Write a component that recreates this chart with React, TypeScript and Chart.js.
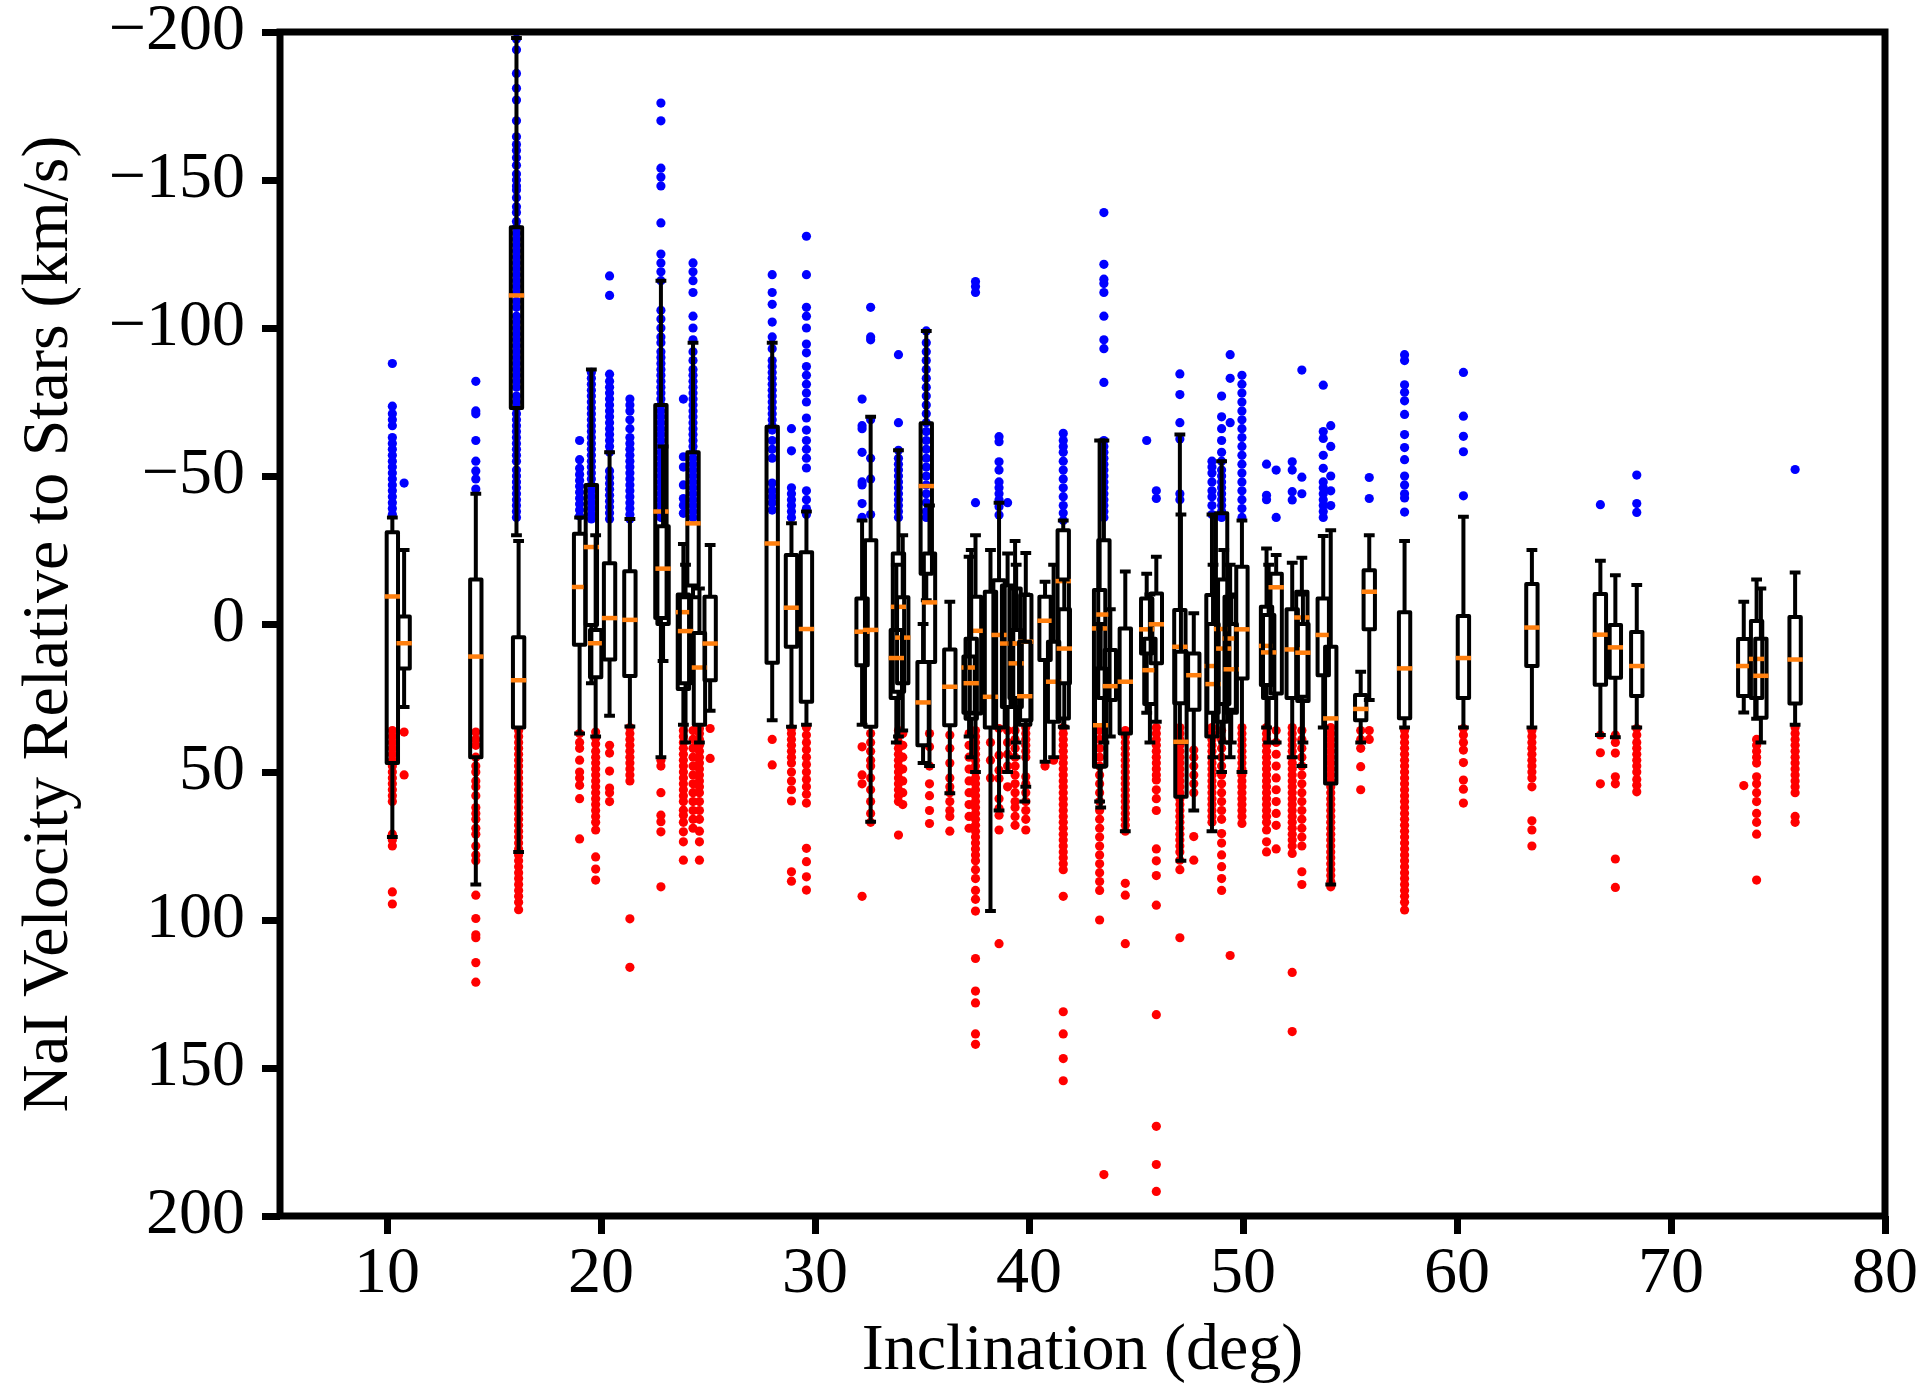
import React, { useEffect, useRef } from "react";
import { Chart, registerables } from "chart.js";

Chart.register(...registerables);

// ---- Data ----
const xTicks = [10, 20, 30, 40, 50, 60, 70, 80];
const yTicks = [-200, -150, -100, -50, 0, 50, 100, 150, 200];

const boxX = [10.25, 10.8, 14.15, 16.05, 16.15, 19.0, 19.55, 19.75, 20.4, 21.35, 22.8, 22.9, 23.85, 23.95, 24.3, 24.6, 25.1, 28.0, 28.9, 29.6, 32.2, 32.6, 33.9, 34.1, 33.8, 35.2, 35.35, 35.05, 36.3, 37.5, 37.2, 37.3, 38.2, 38.6, 39.0, 39.35, 39.4, 39.85, 39.8, 40.75, 41.15, 41.6, 41.65, 43.3, 43.35, 43.5, 43.8, 44.5, 45.5, 45.65, 45.95, 47.05, 47.1, 47.7, 48.55, 48.6, 49.0, 49.1, 49.4, 49.45, 49.95, 51.1, 51.2, 51.55, 52.3, 52.75, 52.8, 53.75, 54.1, 55.5, 55.9, 57.55, 60.3, 63.5, 66.7, 67.4, 68.4, 73.4, 74.0, 74.2, 75.8];

const whiskerLow = [-36, -25, -44, -198, -28, -36, -86, -30, -58, -35.5, -116, -60, -27, -20, -95, -12, -26.7, -95, -34, -38, -35, -70, -58.7, -30, -20, -99, -40, 0, -7.5, -30, -22.7, -25, -25, -41, -23.8, -28, -20, -24, -10, -14.3, -20, -35, -15, -62, 0, -62, -5, -17.7, -17, -10, -22.7, -64, -37, -3.6, -37, -20, -55, -25, -20, -10, -35, -25.5, -20, -23.3, -20.7, -22.4, -10, -29.7, -31.7, 16.1, -30, -28, -36.2, -25, -21.4, -16.5, -13.2, -7.5, -15, -12, -17.4];

const q1 = [-31, -2.5, -15, -134, 4.5, -30.5, -47, 2, -20.5, -17.8, -74, -33, -10, -9, -58, 3, -9.2, -66.6, -23.3, -24.2, -8.6, -28.3, -23.8, -9, 2, -67.8, -23.8, 12.8, 8.6, -9.2, 11, 5, -10.9, -14.8, -13, -12, 2, -9.8, 6, -9.2, 6, -31.7, -5, -11.5, 15, -28.3, 8.8, 1.5, -8.6, 5, -10.3, -4.7, 9.4, 10, -9.8, 0, -37.4, -15, -9.2, 0, -19.3, -5.8, -3, -17, -5, -10.9, 0, -8.6, 7.7, 24, -18.2, -4, -2.7, -13.5, -10.1, 0.3, 2.7, 5.1, -1, 5, -2.4];

const median = [-9.3, 6.5, 11, -111, 19, -12.5, -26, 6.5, -2, -1.4, -38, -18.7, -4, 2.4, -34, 14.7, 6.6, -27.2, -5.5, 1.7, 2.6, 2, -5.8, 4.6, 11.5, -46.6, -7.3, 26.5, 21.2, 2.3, 14.7, 20, 24.6, 3.7, 6.6, 6.6, 13.3, 6, 24.4, -1.1, 19.5, -14.5, 8.3, 1.5, 34.2, -3.2, 21, 19.5, 1.8, 15.6, 0.1, 7.7, 39.8, 17.3, 14.2, 20.3, 1.7, 8.3, 4.9, 15.3, 1.8, 7.4, 9.6, -12.4, 8.6, -2.2, 9.7, 3.7, 31.9, 28.7, -10.9, 15, 11.5, 1.2, 3.6, 7.9, 14.2, 14.2, 11.8, 17.5, 12];

const q3 = [47, 15, 45, -73, 35, 7, 0.3, 18, 12, 17.6, -2, 0, 22, 20, -13, 34, 19, 13.1, 7.7, 26.3, 13.9, 34.7, 22.9, 20, 25, -17, 12.8, 41, 34.2, 30.2, 30, 32, 35, 35, 28, 25, 28, 32.5, 34, 12.2, 33, 31.9, 20, 48.2, 48, 25, 25.7, 37, 10, 27, 13.3, 26.8, 58.4, 29, 38, 30, 33, 27, 29, 30, 18.4, 20.6, 25, 23.5, 25, 24.6, 26, 17.3, 53.9, 32.5, 1.8, 31.8, 25, 14.2, 20.5, 18.2, 24.3, 24.3, 25, 31.7, 26.9];

const whiskerHigh = [72, 28, 88, -30, 77, 37, 20, 38, 31, 34.6, 45, 12.5, 34, 40, -9, 40, 29.3, 32.5, 34.7, 34, 34, 66.8, 38, 36, 40, -8, 48, 47, 57.2, 50, 38, 45, 97, 63, 50, 45, 40, 55, 60, 46.5, 45, 34.7, 35, 60, 62, 40, 38, 70, 30, 40, 33, 40, 80, 63, 70, 45, 50, 40, 45, 40, 50, 35, 40, 40, 45, 48, 40, 35, 88, 40, 25.7, 35, 35, 35, 37.5, 38.3, 35, 29.9, 32, 40, 34];

// individual velocity points per box (negative = blue, positive = red)
const points = [
  [-88, -73.6, -71, -69, -67, -63, -61, -59, -57, -55, -53, -51, -49, -47, -45, -43, -41, -39, -37, 36, 38, 40, 42, 44, 46, 48, 50, 52, 54, 56, 58, 60, 71, 73, 75, 90.5, 94.6],
  [-47.6, 36.5, 51],
  [-82, -72, -71, -62, -55, -51.7, -49, -45.6, 36.5, 39, 41, 45, 48, 50, 53, 55, 58, 62, 64, 66, 69, 71, 75, 78, 80, 91.6, 99.5, 105, 106, 114.4, 121],
  [-197.6, -194, -186, -181, -177, -170, -164.6, -162, -160, -157.5, -155, -152, -150, -148, -146.6, -144, -141, -139, -136, -134, -132, -130, -128, -126, -124, -122, -120, -118, -116, -114, -112, -109, -107, -104, -102, -100, -98, -96, -94, -92, -90, -88, -86, -84, -82, -80, -77, -75, -73, -71, -69, -67, -65, -63, -61, -59, -57, -55, -52, -50, -48, -46, -44, -42, -40, -38, -36],
  [36, 38, 40, 42, 44, 46, 48, 50, 52, 54, 56, 58, 60, 62, 64, 66, 68, 70, 72, 74, 76, 78, 80, 82, 84, 86, 88, 90, 92, 94, 96.5],
  [-62, -55.5, -52.6, -50.5, -48.5, -46.5, -44.5, -42.5, -40.5, -38.5, -36.5, 37, 40, 42, 46, 50, 52, 54.5, 59, 72.6],
  [-85, -83, -81, -79, -77, -75, -73, -71, -69, -67, -65, -63, -61, -59, -57, -55, -53, -51, -49, -47, -45, -43, -41, -39, -37, -35.5],
  [36.5, 38.5, 40.5, 43, 45, 47, 49, 51, 53, 55, 57, 59, 61, 63, 65, 67, 69.6, 78.7, 82.8, 86.5],
  [-117.6, -111, -84.4, -82, -80, -78, -76, -74, -72, -70, -68, -66, -64, -62, -60, -58, -51.7, -49.5, -47.5, -45.5, -43.5, -41.5, -39.5, -37.5, -35.5, 41, 43.6, 49.7, 55.4, 57, 60],
  [-76, -74, -72, -69, -66, -63, -61, -59, -57, -55, -53, -51, -49, -47, -45, -43, -41, -39, -37, -35.5, 35, 37, 39, 41, 43, 45, 47, 49, 51, 53, 99.6, 116],
  [-176, -170, -154, -151, -148, -135.5, -125, -122, -119, -116, -106, -103, -100, -97, -95, -92, -90, -88, -86, -84, -82, -80, -78, -76, -74, -72, -70, -68, -66, -64, -62, -60, -58, -56, -54, -52, -50, -48, -46, -44, -42, -40, -38, -36, 46, 48, 57, 64.6, 66.8, 70.2, 88.8],
  [],
  [-76, -56.5, -53, -47, -42.4, -40, -37.4, 36, 38, 40, 42, 44, 46, 48, 50, 52, 54, 56, 58, 60, 62.9, 64.6, 67, 70.2, 73.6, 79.8],
  [],
  [-122, -119, -116, -112, -104, -100, -96, -92, -89, -86, -84, -82, -80, -78, -76, -74, -72, -70, -68, -66, -64, -62, -60, -58, -56, -54, -52, -50, -48, -46, -44, -42, -40, -38, -36, 36, 39, 42, 45, 48, 51, 54, 57, 60, 63, 66, 69],
  [35.3, 37, 39, 41, 43, 45, 47, 49, 51, 53, 55, 57, 60, 63, 66, 70, 73.6, 79.8],
  [35.3, 45.4],
  [-118, -112, -108, -102, -97, -93, -89, -87, -85, -83, -81, -79, -77, -75, -73, -71, -69, -67, -65.5, -62, -59, -56, -47.6, -45, -43, -41, -38.5, 39, 47.6],
  [-66, -58.5, -46, -44, -42, -40, -38, -36, 35.3, 37, 39, 41, 43, 45, 47, 50, 53, 56, 59.8, 83.7, 86.9],
  [-131, -118, -107, -104, -100, -94.6, -91.6, -87, -84, -81, -78, -75, -69.6, -65.5, -62, -59, -56, -52.7, -45, -42, -39, -37, 35, 37.5, 40, 42.5, 45, 47.5, 50, 52.5, 55, 57.5, 60.5, 75.8, 80.3, 85.4, 89.9],
  [-76, -67, -66, -58, -48, -47, -40.7, -36, 41.5, 51, 54, 92],
  [-107, -97, -96, -69, -56, -49, -37, 37, 40, 43, 46, 48, 52, 56, 60, 64, 67],
  [-91, -68, -58.7, -56, -54, -52, -50, -48, -46, -44, -42, -40, -38, -36, 36, 38, 40, 42, 44, 46, 48, 50, 52, 54, 56, 58, 60, 71.3],
  [37, 41, 45, 49, 53, 57, 61],
  [],
  [-99, -95, -92, -89, -86, -83, -80, -77, -74, -71, -68, -65, -62, -59, -56, -53, -50, -47, -44, -41, -38, -36],
  [37, 41.5, 48, 54, 58, 63, 67.4],
  [],
  [37.5, 42, 47, 52, 55, 57, 60, 63, 65, 70],
  [-115.7, -114, -112, -41, 36, 38, 40, 42, 44, 46, 48, 50, 52, 54, 56, 58, 60, 62, 64, 66, 68, 70, 72, 74, 76, 78, 80, 83, 86, 90, 93, 97, 113, 124, 128, 138.5, 142],
  [37, 41, 45, 49, 53, 57, 61, 65, 69],
  [],
  [40, 46, 52],
  [-63.3, -61.6, -54.8, -52, -48, -46, -44, -42, -39.6, -36.8, 35.3, 44.3, 49.4, 52.2, 59, 62.3, 64.6, 69.6, 108],
  [-41, 36, 40, 44, 48, 55],
  [36, 39, 42, 45, 48, 51, 54, 57, 60, 62, 65, 68],
  [],
  [35, 37, 39, 41, 43, 45, 51.6, 54, 57, 60, 63, 66, 69.6],
  [],
  [48],
  [46],
  [-64.4, -62, -60, -58, -55, -52, -49, -46, -43, -40, -37.5, -35, 35, 37, 39, 41, 43, 45, 47, 49, 51, 53, 55, 57, 59, 61, 63, 65, 67, 69, 71, 73, 75, 77, 79, 81, 83, 92, 131, 138.5, 146.8, 154.3],
  [],
  [36, 39, 42, 45, 48, 51, 54, 57, 60, 63, 66, 69, 72, 75, 78, 81, 84, 87, 90, 100],
  [],
  [-139, -121.5, -116.5, -115, -112, -104, -96, -93, -81.6, -62, -60, -58, -56, -54, -52, -50, -48, -46, -44, -42, -40, -38, -36, 186],
  [],
  [36, 38, 40, 42, 44, 46, 48, 50, 52, 54, 56, 58, 60, 62, 64, 66, 68, 70, 87.6, 91.6, 108],
  [-62],
  [],
  [-45, -42.4, 35, 37, 39, 41, 43, 45, 47, 49, 51, 52.7, 56, 59, 63, 76, 80, 85, 95, 132, 169.7, 182.6, 191.7],
  [-84.5, -77.5, -68, -62.5, -44, -42, 35, 37, 39, 41, 43, 45, 47, 49, 51, 53, 55, 57, 59, 61, 63, 65, 67, 69, 71, 73, 75, 77, 79.8, 83, 106],
  [],
  [42.6, 45, 48, 51, 54, 57, 71.8, 79.8],
  [-55, -53, -51, -48, -45, -43, -40, -37, 35, 37, 39, 41, 43, 45, 47, 49, 51, 53, 55, 57, 59, 61, 63, 65, 67],
  [],
  [-77, -70, -66, -62, -58, -55, -52, -50, -48, -46, -44, -42, -40, -38, -36, 36, 39, 42, 45, 48, 51, 54, 57, 60, 63, 66, 70.8, 74, 78, 82, 86, 90],
  [],
  [-91, -83, -68, 112],
  [],
  [-84, -81, -78, -75, -72, -69, -66, -63, -60, -57, -54, -51, -48, -45, -42, -39, -36, 35, 37, 39, 41, 43, 45, 47, 49, 51, 53, 55, 57, 59, 61, 63, 65, 67.4],
  [-54, -43.5, -42, 35, 37, 39, 41, 43, 45, 47, 49, 51, 53, 55, 57, 59, 61, 63, 65, 67, 69.6, 73.6, 77],
  [],
  [-52, -36, 36, 40, 44, 48, 52, 56, 60, 64, 68, 76],
  [-54.8, -52, -44.7, -41.9, 35, 37, 39, 41, 43, 45, 47, 49, 51, 53, 55, 57, 59, 61, 63, 65, 67, 69, 71, 73, 75, 77.5, 117.7, 137.7],
  [-85.8, -49.6, -44, 36, 39, 42, 45, 48, 51, 54, 57, 60, 63, 66, 69, 72, 75, 83.7, 88],
  [],
  [-80.7, -65, -62.7, -57, -52.6, -48, -46, -44, -42, -40, -38, -36],
  [-67, -60, -50, -45, -40, 35, 37, 39, 41, 43, 45, 47, 49, 51, 53, 55, 57, 59, 61, 63, 65, 67, 69, 71, 73, 75, 77, 79, 81, 83, 85, 87, 88.8],
  [36, 39, 42, 48.2, 56],
  [-49.5, -42.4, 36, 39],
  [-91, -89, -80.8, -78.3, -75.4, -70.8, -64, -59.6, -55.5, -50, -47, -44, -42.6, -37.8, 36, 38, 40, 42, 44, 46, 48, 50, 52, 54, 56, 58, 60, 62, 64, 66, 68, 70, 72, 74, 76, 78, 80, 82, 84, 86, 88, 90, 92, 94, 96.6],
  [-85, -70.2, -63.4, -58.2, -43.3, 35.3, 37.5, 40, 42.6, 46.8, 52.7, 55.8, 60.5],
  [36, 38, 40, 42, 44, 46, 48, 50, 52, 55, 66.5, 69.6, 75],
  [-40.3, 37.5, 43.5, 54],
  [37.5, 40, 43.6, 51.6, 54, 79.4, 89],
  [-50.3, -40.7, -37.7, 35.3, 37.5, 40, 42, 44, 46, 48, 50, 52.5, 54.5, 56.7],
  [54.6],
  [39, 41, 43, 45, 47, 51.6, 54, 57, 60, 64, 67, 71, 86.5],
  [],
  [-52.2, 35, 37, 39, 41, 43, 45, 47, 49, 51, 53, 55, 57, 65, 67],
];

const BOX_WIDTH = 0.53; // degrees, centre-to-centre of the box edges
const FONT = '"Liberation Serif", "Times New Roman", Times, serif';

export default function App() {
  const ref = useRef<HTMLCanvasElement>(null);

  useEffect(() => {
    document.body.style.margin = "0";
    const canvas = ref.current;
    if (!canvas) return;

    const blue: { x: number; y: number }[] = [];
    const red: { x: number; y: number }[] = [];
    points.forEach((arr, i) => {
      arr.forEach((v) => {
        (v < 0 ? blue : red).push({ x: boxX[i], y: v });
      });
    });

    const boxPlugin = {
      id: "boxes",
      afterDatasetsDraw(chart: any) {
        const { ctx, chartArea } = chart;
        const xs = chart.scales.x;
        const ys = chart.scales.y;
        ctx.save();
        ctx.beginPath();
        ctx.rect(chartArea.left, chartArea.top, chartArea.right - chartArea.left, chartArea.bottom - chartArea.top);
        ctx.clip();
        for (let i = 0; i < boxX.length; i++) {
          const cx = xs.getPixelForValue(boxX[i]);
          const hw = xs.getPixelForValue(boxX[i] + BOX_WIDTH / 2) - cx;
          const cw = hw * 0.6;
          const yLo = ys.getPixelForValue(whiskerLow[i]);
          const yQ1 = ys.getPixelForValue(q1[i]);
          const yMed = ys.getPixelForValue(median[i]);
          const yQ3 = ys.getPixelForValue(q3[i]);
          const yHi = ys.getPixelForValue(whiskerHigh[i]);
          ctx.strokeStyle = "#000000";
          ctx.lineWidth = 4;
          ctx.lineCap = "butt";
          ctx.beginPath();
          ctx.moveTo(cx, yQ1);
          ctx.lineTo(cx, yLo);
          ctx.moveTo(cx, yQ3);
          ctx.lineTo(cx, yHi);
          ctx.stroke();
          ctx.lineCap = "square";
          ctx.beginPath();
          ctx.moveTo(cx - cw, yLo);
          ctx.lineTo(cx + cw, yLo);
          ctx.moveTo(cx - cw, yHi);
          ctx.lineTo(cx + cw, yHi);
          ctx.stroke();
          ctx.lineJoin = "round";
          ctx.strokeRect(cx - hw, yQ1, 2 * hw, yQ3 - yQ1);
          ctx.strokeStyle = "#ff7f0e";
          ctx.lineWidth = 4.5;
          ctx.lineCap = "butt";
          ctx.beginPath();
          ctx.moveTo(cx - hw - 2, yMed);
          ctx.lineTo(cx + hw + 2, yMed);
          ctx.stroke();
        }
        ctx.restore();
      },
      afterDraw(chart: any) {
        const { ctx, chartArea } = chart;
        ctx.save();
        ctx.strokeStyle = "#000000";
        ctx.lineWidth = 7;
        ctx.lineJoin = "miter";
        ctx.strokeRect(chartArea.left, chartArea.top, chartArea.right - chartArea.left, chartArea.bottom - chartArea.top);
        ctx.restore();
      },
    };

    const chart = new Chart(canvas, {
      type: "scatter",
      data: {
        datasets: [
          { data: blue, backgroundColor: "#0000ff", borderWidth: 0, pointRadius: 4.6, pointHoverRadius: 4.6 },
          { data: red, backgroundColor: "#ff0000", borderWidth: 0, pointRadius: 4.6, pointHoverRadius: 4.6 },
        ],
      },
      options: {
        animation: false,
        responsive: false,
        devicePixelRatio: 1,
        events: [],
        layout: { padding: { left: 10, top: 32, right: 43, bottom: 0 } },
        plugins: { legend: { display: false }, tooltip: { enabled: false } },
        scales: {
          x: {
            type: "linear",
            min: 5,
            max: 80,
            afterBuildTicks: (s: any) => {
              s.ticks = xTicks.map((v) => ({ value: v }));
            },
            afterFit: (s: any) => {
              s.height = 1387 - 1216;
              s.paddingLeft = 0;
              s.paddingRight = 0;
            },
            grid: { display: true, drawOnChartArea: false, drawTicks: true, tickLength: 18, tickWidth: 7, tickColor: "#000000", lineWidth: 7, color: "#000000" },
            border: { display: false },
            ticks: { font: { family: FONT, size: 66 }, color: "#000000", padding: 1, maxRotation: 0, autoSkip: false },
            title: { display: true, text: "Inclination (deg)", color: "#000000", font: { family: FONT, size: 66, lineHeight: 1 }, padding: { top: 0, bottom: 2 } },
          },
          y: {
            type: "linear",
            reverse: true,
            min: -200,
            max: 200,
            afterBuildTicks: (s: any) => {
              s.ticks = yTicks.map((v) => ({ value: v }));
            },
            afterFit: (s: any) => {
              s.width = 270;
              s.paddingTop = 0;
              s.paddingBottom = 0;
            },
            grid: { display: true, drawOnChartArea: false, drawTicks: true, tickLength: 18, tickWidth: 7, tickColor: "#000000", lineWidth: 7, color: "#000000" },
            border: { display: false },
            ticks: {
              font: { family: FONT, size: 66, lineHeight: 0.2 },
              color: "#000000",
              padding: 17,
              autoSkip: false,
              callback: (v: any) => String(v).replace("-", "\u2212"),
            },
            title: { display: true, text: "NaI Velocity Relative to Stars (km/s)", color: "#000000", font: { family: FONT, size: 66, lineHeight: 1 }, padding: { top: 7, bottom: 0 } },
          },
        },
      },
      plugins: [boxPlugin],
    } as any);

    return () => chart.destroy();
  }, []);

  return (
    <div style={{ position: "absolute", left: 0, top: 0, width: 1928, height: 1387, background: "#ffffff" }}>
      <canvas ref={ref} width={1928} height={1387} style={{ display: "block", width: 1928, height: 1387 }} />
    </div>
  );
}
